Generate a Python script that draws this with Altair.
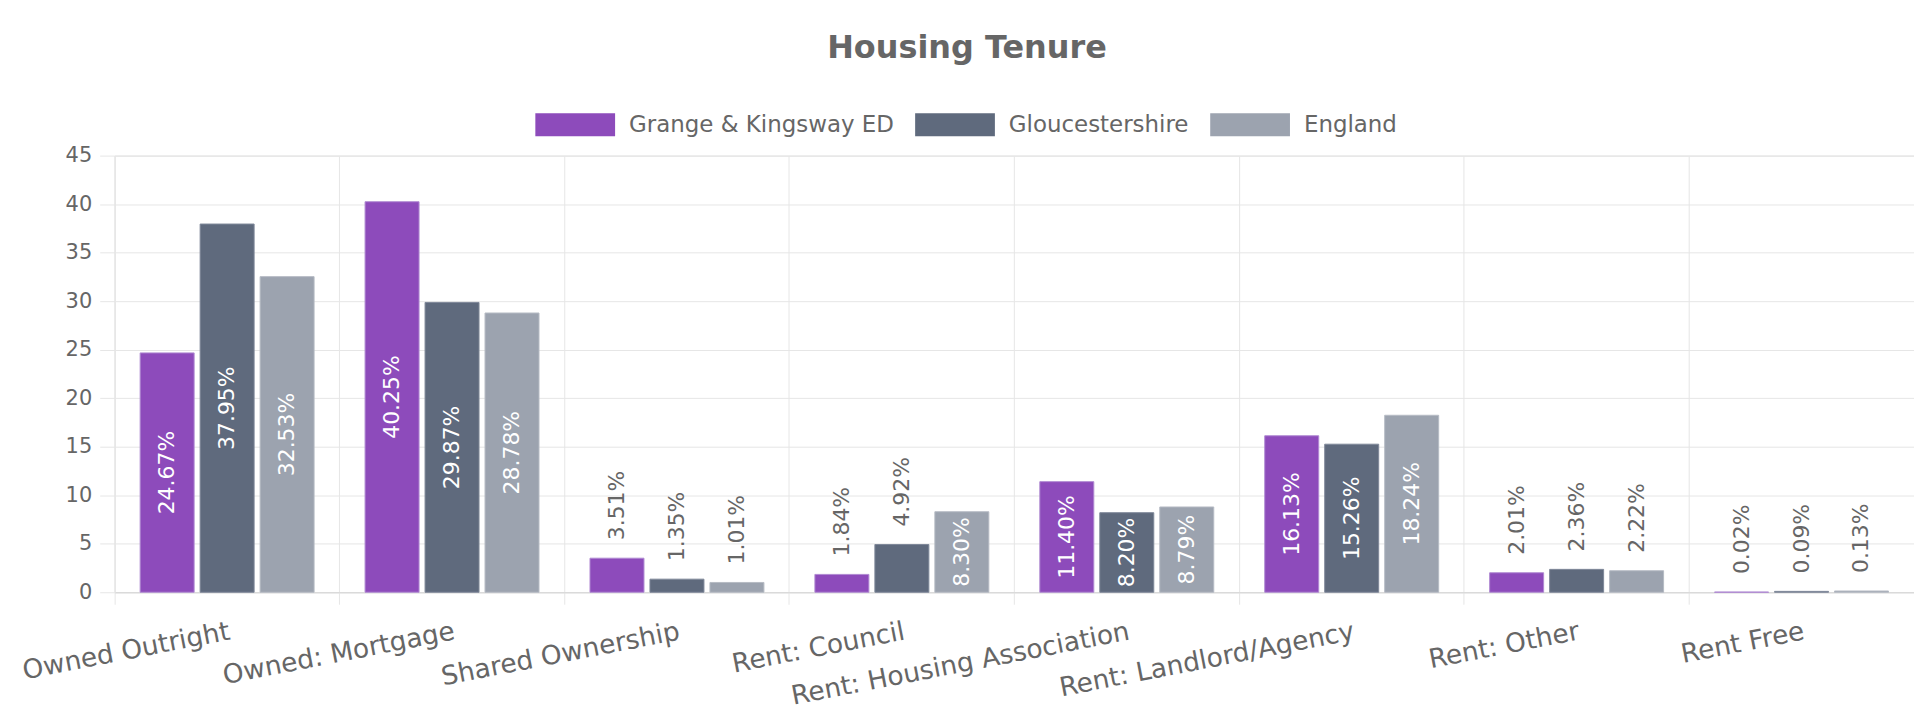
import altair as alt
import pandas as pd

categories = [
    "Owned Outright",
    "Owned: Mortgage",
    "Shared Ownership",
    "Rent: Council",
    "Rent: Housing Association",
    "Rent: Landlord/Agency",
    "Rent: Other",
    "Rent Free",
]
series = ["Grange & Kingsway ED", "Gloucestershire", "England"]
grange = [24.67, 40.25, 3.51, 1.84, 11.40, 16.13, 2.01, 0.02]
gloucestershire = [37.95, 29.87, 1.35, 4.92, 8.20, 15.26, 2.36, 0.09]
england = [32.53, 28.78, 1.01, 8.30, 8.79, 18.24, 2.22, 0.13]
y_ticks = [0, 5, 10, 15, 20, 25, 30, 35, 40, 45]

colors = ["#8D4BBB", "#5F6A7D", "#9CA3AF"]
stroke_colors = ["#B08AD2", "#7E8899", "#B6BBC4"]

rows = []
for s, vals in zip(series, [grange, gloucestershire, england]):
    for c, v in zip(categories, vals):
        rows.append({"category": c, "series": s, "value": v})
df = pd.DataFrame(rows)

FONT = "DejaVu Sans"
GRID = "#e6e6e6"
TEXT = "#666666"

PLOT_W = 1805
PLOT_H = 438

x_axis = alt.Axis(
    title=None,
    bandPosition=-0.125,
    labelAngle=-11,
    labelAlign="right",
    labelBaseline="top",
    labelPadding=14,
    labelFont=FONT,
    labelFontSize=26.5,
    labelColor=TEXT,
    labelLimit=0,
    labelOverlap=False,
    tickSize=12,
    tickColor=GRID,
    grid=True,
    gridColor=GRID,
    domainColor="#d6d6d6",
)
y_axis = alt.Axis(
    title=None,
    values=y_ticks,
    labelFont=FONT,
    labelFontSize=21,
    labelColor=TEXT,
    labelPadding=8,
    tickSize=15,
    tickColor=GRID,
    grid=True,
    gridColor=GRID,
    domainColor=GRID,
)

x_scale = alt.Scale(paddingInner=0.2, paddingOuter=0.1)
xoff_scale = alt.Scale(paddingInner=0.1, paddingOuter=0.05)
y_scale = alt.Scale(domain=[0, 45], nice=False, zero=True)

x_enc = alt.X("category:N", sort=categories, scale=x_scale, axis=x_axis)
xoff_enc = alt.XOffset("series:N", sort=series, scale=xoff_scale)

bars = (
    alt.Chart(df)
    .mark_bar(strokeWidth=1)
    .encode(
        x=x_enc,
        xOffset=xoff_enc,
        y=alt.Y("value:Q", scale=y_scale, axis=y_axis),
        color=alt.Color(
            "series:N",
            sort=series,
            scale=alt.Scale(domain=series, range=colors),
            legend=alt.Legend(
                title=None,
                orient="none",
                direction="horizontal",
                legendX=422,
                legendY=-71,
                symbolType="M-1,-0.2875H1V0.2875H-1Z",
                symbolSize=6400,
                symbolStrokeWidth=0,
                labelFont=FONT,
                labelFontSize=23,
                labelColor=TEXT,
                labelOffset=14,
                labelLimit=0,
                columnPadding=21,
            ),
        ),
        stroke=alt.Stroke(
            "series:N",
            sort=series,
            scale=alt.Scale(domain=series, range=stroke_colors),
            legend=None,
        ),
    )
)

labelled = alt.Chart(df).transform_calculate(
    label="format(datum.value, '.2f') + '%'", mid="datum.value / 2"
)

inside = (
    labelled.transform_filter("datum.value >= 6")
    .mark_text(angle=270, align="center", baseline="middle", font=FONT, fontSize=22, color="white")
    .encode(
        x=x_enc,
        xOffset=xoff_enc,
        y=alt.Y("mid:Q", scale=y_scale, axis=y_axis),
        text="label:N",
    )
)

outside = (
    labelled.transform_filter("datum.value < 6")
    .mark_text(angle=270, align="left", baseline="middle", dx=18, font=FONT, fontSize=22, color=TEXT)
    .encode(
        x=x_enc,
        xOffset=xoff_enc,
        y=alt.Y("value:Q", scale=y_scale, axis=y_axis),
        text="label:N",
    )
)

chart = (
    alt.layer(bars, inside, outside)
    .properties(
        width=PLOT_W,
        height=PLOT_H,
        title=alt.TitleParams(
            "Housing Tenure",
            font=FONT,
            fontSize=32,
            fontWeight="bold",
            color=TEXT,
            anchor="middle",
            frame="bounds",
            offset=20,
        ),
        autosize=alt.AutoSizeParams(type="none"),
        padding={"left": 107, "top": 147, "right": 0, "bottom": 113},
    )
    .configure_view(stroke=None)
    .configure(background="white")
)

chart.save("out.html", embed_options={"renderer": "svg", "actions": False})
